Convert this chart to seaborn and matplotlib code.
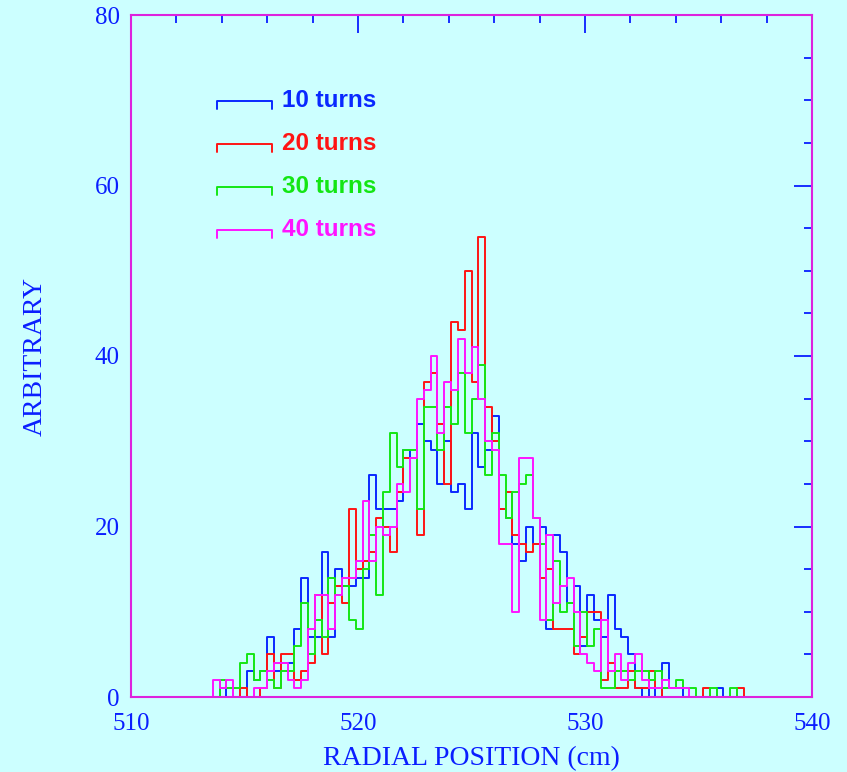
import numpy as np
import pandas as pd
import matplotlib
matplotlib.use("Agg")
import matplotlib.pyplot as plt
import seaborn as sns

# Histogram range and binning (cm)
x_min, x_max, bin_width = 510.0, 540.0, 0.3
first_bin_left = 513.3  # left edge of the first listed bin

# Counts per 0.3 cm bin, starting at 513.3 cm
counts_10 = [0, 0, 1, 0, 0, 0, 3, 2, 3, 7, 3, 4, 4, 8, 14, 7, 7, 17, 7, 15,
             13, 13, 14, 14, 26, 22, 22, 22, 23, 29, 28, 32, 30, 29, 25, 30, 24, 25, 22, 31,
             27, 29, 33, 22, 21, 18, 16, 20, 18, 20, 8, 19, 17, 11, 13, 6, 12, 9, 7, 12,
             8, 7, 5, 1, 0, 1, 0, 4, 1, 1, 0, 0, 0, 0, 0, 1, 0, 0, 0, 0]
counts_20 = [0, 0, 0, 0, 0, 1, 0, 0, 1, 5, 1, 5, 5, 2, 3, 4, 12, 5, 11, 13,
             11, 22, 15, 16, 17, 21, 20, 17, 24, 28, 28, 19, 37, 38, 32, 25, 44, 43, 50, 37,
             54, 34, 30, 22, 24, 19, 18, 17, 18, 14, 15, 8, 8, 8, 5, 7, 10, 10, 2, 4,
             1, 1, 3, 1, 1, 3, 1, 0, 0, 0, 0, 0, 0, 1, 0, 0, 0, 0, 1, 0]
counts_30 = [0, 0, 2, 1, 1, 4, 5, 2, 3, 2, 1, 3, 3, 6, 11, 5, 9, 7, 14, 12,
             13, 9, 8, 15, 19, 12, 24, 31, 27, 29, 29, 22, 34, 34, 29, 34, 32, 38, 31, 35,
             39, 26, 31, 26, 21, 24, 25, 26, 21, 18, 9, 16, 10, 11, 6, 10, 6, 8, 1, 1,
             3, 3, 2, 3, 3, 2, 3, 1, 1, 2, 1, 1, 0, 0, 1, 0, 0, 1, 0, 0]
counts_40 = [0, 2, 1, 2, 0, 0, 0, 1, 1, 3, 4, 4, 2, 1, 2, 8, 12, 12, 8, 12,
             14, 14, 16, 23, 16, 20, 19, 20, 25, 24, 28, 35, 36, 40, 31, 37, 36, 42, 38, 41,
             35, 30, 29, 18, 18, 10, 28, 28, 21, 9, 19, 11, 13, 14, 10, 5, 4, 3, 9, 3,
             5, 2, 4, 5, 2, 1, 1, 2, 1, 1, 1, 0, 0, 0, 0, 0, 0, 0, 0, 0]

series_labels = ["10 turns", "20 turns", "30 turns", "40 turns"]
series_counts = [counts_10, counts_20, counts_30, counts_40]
series_colors = ["#0a28ff", "#ff1414", "#14e614", "#ff14ff"]

x_label = "RADIAL POSITION (cm)"
y_label = "ARBITRARY"
x_major = [510, 520, 530, 540]
y_major = [0, 20, 40, 60, 80]

# Long-form table: one row per bin centre, weighted by its count
frames = []
for label, counts in zip(series_labels, series_counts):
    centres = first_bin_left + bin_width * (np.arange(len(counts)) + 0.5)
    frames.append(pd.DataFrame({"position": centres, "count": counts, "series": label}))
df = pd.concat(frames, ignore_index=True)

bg = "#ccffff"
axis_blue = "#0a1eff"
frame_col = "#dd22dd"

sns.set_style("white")
plt.rcParams["font.family"] = ["Liberation Serif", "DejaVu Serif"]

fig = plt.figure(figsize=(8.47, 7.72), dpi=100, facecolor=bg)
ax = fig.add_axes([131 / 847, 1 - 697 / 772, 681 / 847, 682 / 772])
ax.set_facecolor(bg)

for label, color in zip(series_labels, series_colors):
    sns.histplot(data=df[df["series"] == label], x="position", weights="count",
                 binwidth=bin_width, binrange=(x_min, x_max),
                 element="step", fill=False, color=color,
                 linewidth=1.4, ax=ax, legend=False)

ax.set_xlim(x_min, x_max)
ax.set_ylim(0, 80)
ax.set_xticks(x_major)
ax.set_xticks(np.arange(512, 540, 2), minor=True)
ax.set_yticks(y_major)
ax.set_yticks(np.arange(5, 80, 5), minor=True)
ax.tick_params(which="both", direction="in", top=True, right=True,
               color=axis_blue, width=1.3, labelcolor=axis_blue, labelsize=18)
ax.tick_params(which="major", length=13)
ax.tick_params(which="minor", length=6)
ax.tick_params(axis="x", which="major", pad=11.5)
ax.tick_params(axis="y", which="major", pad=8)
for sp in ax.spines.values():
    sp.set_color(frame_col)
    sp.set_linewidth(1.5)

ax.set_xlabel(x_label, fontsize=20, color=axis_blue, labelpad=8)
ax.set_ylabel(y_label, fontsize=20, color=axis_blue, labelpad=34)

# Key: a bin-outline glyph and a bold coloured caption per series
key_x0, key_x1, text_x = 0.1263, 0.207, 0.2217
key_y0, key_dy, cap = 0.874, 0.0630, 0.0125
for i, (label, color) in enumerate(zip(series_labels, series_colors)):
    y = key_y0 - i * key_dy
    ax.plot([key_x0, key_x0, key_x1, key_x1], [y - cap, y, y, y - cap],
            color=color, linewidth=1.4, transform=ax.transAxes, clip_on=False)
    ax.text(text_x, y, label, transform=ax.transAxes, color=color,
            fontsize=17.5, fontweight="bold", va="center", ha="left",
            family=["Liberation Sans", "DejaVu Sans"])

fig.savefig("out.png", dpi=100, facecolor=bg)
